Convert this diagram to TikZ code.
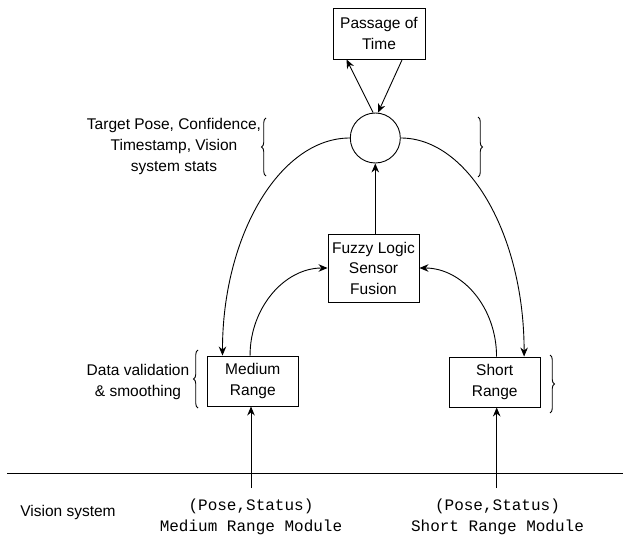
\documentclass[tikz,border=0pt]{standalone}
\usepackage{fontspec}
\setmainfont{Liberation Sans}
\newfontfamily\monofont{Liberation Mono}
\usetikzlibrary{arrows.meta,calc,decorations.pathreplacing}

\tikzset{
  box/.style={draw, line width=0.9pt, rectangle, align=center, inner sep=0pt,
              font=\fontsize{15.5}{20.5}\selectfont},
  hubnode/.style={draw, line width=0.9pt, circle, minimum size=50pt, inner sep=0pt},
  conn/.style={line width=0.9pt, -{Stealth[length=9pt,width=7.5pt]}},
  plain/.style={line width=0.9pt},
  label/.style={align=center, inner sep=0pt, font=\fontsize{15.5}{21}\selectfont},
  codetext/.style={align=center, inner sep=0pt, font=\monofont\fontsize{16}{21}\selectfont},
  bracket/.style={line width=0.9pt, decorate, decoration={brace, amplitude=4.5pt}}
}

\begin{document}
\begin{tikzpicture}[x=1pt, y=-1pt]
  \useasboundingbox (0,0) rectangle (623,537);

  % nodes
  \node[box, minimum width=92pt, minimum height=51pt] (time) at (379,33.5) {Passage of\\Time};
  \node[hubnode] (hub) at (375.3,138) {};
  \node[box, minimum width=91pt, minimum height=68pt] (fuzzy) at (373.5,268) {Fuzzy Logic\\Sensor\\Fusion};
  \node[box, minimum width=91pt, minimum height=50pt] (medium) at (252.8,381) {Medium\\Range};
  \node[box, minimum width=91pt, minimum height=50pt] (short) at (494.7,382) {Short\\Range};

  % attachment points on the boxes
  \coordinate (tl) at ($(time.south west)!0.15!(time.south east)$);
  \coordinate (tr) at ($(time.south west)!0.75!(time.south east)$);
  \coordinate (ma) at ($(medium.north west)!0.17!(medium.north east)$);
  \coordinate (mb) at ($(medium.north west)!0.47!(medium.north east)$);
  \coordinate (sa) at ($(short.north west)!0.82!(short.north east)$);
  \coordinate (sb) at ($(short.north west)!0.52!(short.north east)$);

  % hub <-> passage of time
  \draw[conn] (hub.95) -- (tl);
  \draw[conn] (tr) -- (hub.84);

  % fusion -> hub
  \draw[conn] (hub.south |- fuzzy.north) -- (hub.south);

  % hub -> range modules
  \draw[conn] (hub.west) .. controls +(-70,0) and +(0,-120) .. (ma);
  \draw[conn] (hub.east) .. controls +(68,0) and +(0,-121) .. (sa);

  % range modules -> fusion
  \draw[conn] (mb) .. controls +(0,-48) and +(-43,0) .. (fuzzy.west);
  \draw[conn] (sb) .. controls +(0,-49) and +(43,0) .. (fuzzy.east);

  % vision system boundary
  \coordinate (bl) at (7,473);
  \coordinate (br) at (623,473);
  \draw[plain] (bl) -- (br);
  \coordinate (mv) at (251,488);
  \coordinate (sv) at (496.7,488);
  \draw[conn] (mv) -- (mv |- medium.south);
  \draw[conn] (sv) -- (sv |- short.south);

  % text labels
  \node[label] (lbltop) at (174,146) {Target Pose, Confidence,\\Timestamp, Vision\\system stats};
  \node[label] (lbldata) at (138,382) {Data validation\\\& smoothing};
  \node[label] (lblvis) at (68,512) {Vision system};
  \node[codetext] (codem) at (251,516.5) {(Pose,Status)\\Medium Range Module};
  \node[codetext] (codes) at (497.5,516.5) {(Pose,Status)\\Short Range Module};

  % braces
  \draw[bracket] (266,176) -- (266,118);
  \draw[bracket] (478,117) -- (478,177);
  \draw[bracket] (198,408) -- (198,350);
  \draw[bracket] (550,355) -- (550,413);
\end{tikzpicture}
\end{document}
